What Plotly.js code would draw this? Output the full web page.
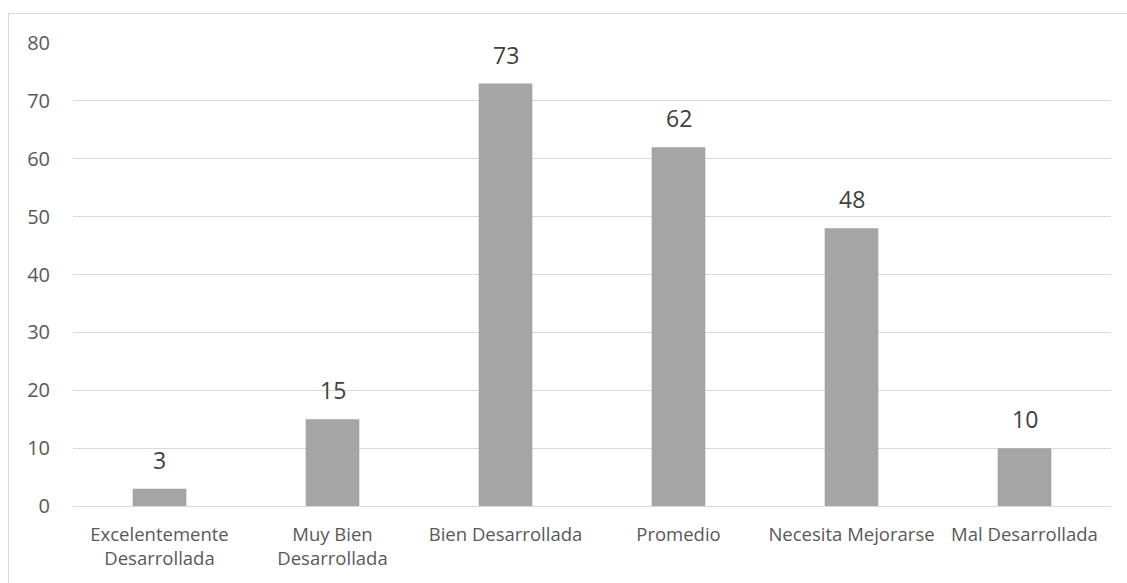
<!DOCTYPE html>
<html>
<head>
<meta charset="utf-8">
<script src="https://cdn.plot.ly/plotly-3.0.1.min.js"></script>
<style>
html,body{margin:0;padding:0;background:#fff;width:1127px;height:583px;overflow:hidden;}
#frame{position:absolute;left:8px;top:13px;width:1200px;height:700px;border:1px solid #D9D9D9;box-sizing:border-box;}
#chart{position:absolute;left:0;top:0;width:1127px;height:583px;}
</style>
</head>
<body>
<div id="frame"></div>
<div id="chart"></div>
<script>
const categories = ["Excelentemente<br>Desarrollada","Muy Bien<br>Desarrollada","Bien Desarrollada","Promedio","Necesita Mejorarse","Mal Desarrollada"];
const values = [3, 15, 73, 62, 48, 10];
const yTicks = [0,10,20,30,40,50,60,70,80];

const trace = {
  type: 'bar',
  x: categories,
  y: values,
  marker: {color: '#A5A5A5'},
  hoverinfo: 'none'
};

const annotations = categories.map((c, i) => ({
  x: c, y: values[i], xref: 'x', yref: 'y',
  text: String(values[i]), showarrow: false,
  yanchor: 'bottom', yshift: 11,
  font: {family: '"Open Sans", sans-serif', size: 23, color: '#404040'}
}));

const layout = {
  width: 1127, height: 583,
  margin: {l: 73, r: 16, t: 43, b: 77, pad: 0},
  paper_bgcolor: 'rgba(0,0,0,0)',
  plot_bgcolor: 'rgba(0,0,0,0)',
  bargap: 0.69,
  showlegend: false,
  font: {family: '"Open Sans", sans-serif', size: 18.5, color: '#595959'},
  xaxis: {
    type: 'category', showgrid: false, zeroline: false,
    showline: true, linecolor: '#D9D9D9', linewidth: 1,
    ticks: '', tickfont: {size: 18.5, color: '#595959'},
    ticklabelstandoff: 12, fixedrange: true
  },
  yaxis: {
    range: [0, 80], tickvals: yTicks, ticktext: yTicks.map(String),
    showgrid: true, gridcolor: '#D9D9D9', gridwidth: 1,
    zeroline: false, showline: false, ticks: '',
    tickfont: {size: 20, color: '#595959'},
    ticklabelstandoff: 22, fixedrange: true
  },
  annotations: annotations
};

Plotly.newPlot('chart', [trace], layout, {staticPlot: true, displayModeBar: false});
</script>
</body>
</html>
